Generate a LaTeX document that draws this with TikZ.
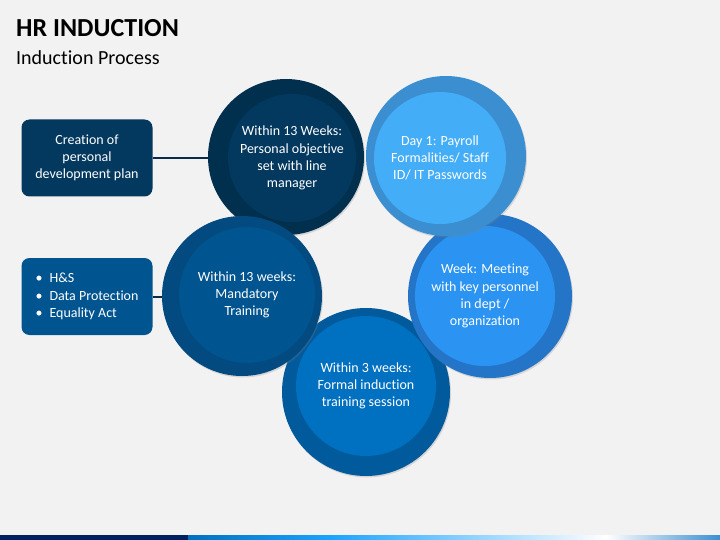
\documentclass[tikz,border=0pt]{standalone}
\usepackage{fontspec}
\setmainfont[Ligatures=NoCommon]{Carlito}
\usetikzlibrary{shadows}
\definecolor{fond}{HTML}{F2F2F2}
\definecolor{trait}{HTML}{0B2B4C}
\definecolor{tlA}{HTML}{01304F}
\definecolor{tlB}{HTML}{03385F}
\definecolor{trA}{HTML}{3B8FD1}
\definecolor{trB}{HTML}{43ADF7}
\definecolor{rA}{HTML}{2474C8}
\definecolor{rB}{HTML}{2B93F1}
\definecolor{bA}{HTML}{005A9C}
\definecolor{bB}{HTML}{0070C0}
\definecolor{lA}{HTML}{024A80}
\definecolor{lB}{HTML}{00548F}
\definecolor{barre}{HTML}{002060}
\tikzset{
  anneau/.style={circle, inner sep=0pt, minimum size=#1,
    drop shadow={shadow xshift=1pt, shadow yshift=-1.5pt, opacity=.25}},
  disque/.style={circle, inner sep=0pt, minimum size=#1, text=white,
    align=center, font=\fontsize{14}{17.2}\selectfont},
  boite/.style={rounded corners=8pt, minimum width=131pt, minimum height=77pt,
    inner sep=0pt, text=white, font=\fontsize{14}{17.2}\selectfont},
  lien/.style={draw=trait, line width=2pt}
}
\begin{document}
\begin{tikzpicture}[x=1pt,y=-1pt]  % ------ HR induction : induction process ------
  \fill[fond] (0,0) rectangle (720,540);
  \node[anchor=base west, inner sep=0pt, font=\fontsize{26}{30}\selectfont\bfseries] (titre) at (16,37) {HR INDUCTION};
  \node[anchor=base west, inner sep=0pt, font=\fontsize{20}{24}\selectfont] (soustitre) at (16,65) {Induction Process};
  % centres des cercles
  \coordinate (tl) at (286,157);
  \coordinate (tr) at (446,156);
  \coordinate (dr) at (490,296);
  \coordinate (bs) at (366,392);
  \coordinate (gc) at (242,296);
  % les boites
  \node[boite, fill=tlB, align=center] (plan) at (87,158) {Creation of\\personal\\development plan};
  \node[boite, fill=lB, align=left] (liste) at (87,296.5)
    {\textbullet\hspace{7pt}H\&S\\\textbullet\hspace{7pt}Data Protection\\\textbullet\hspace{7pt}Equality Act};
  \draw[lien] (plan) -- (plan -| tl);
  \draw[lien] (liste) -- (liste -| gc);
  % les cercles
  \node[anneau=156pt, fill=tlA] (tlo) at (tl) {};
  \node[disque=128pt, fill=tlB] (tli) at (292,158) {Within 13 Weeks:\\Personal objective\\set with line\\manager};
  \node[anneau=168pt, fill=bA] (bso) at (bs) {};
  \node[disque=140pt, fill=bB] (bsi) at (366,386) {Within 3 weeks:\\Formal induction\\training session};
  \node[anneau=160pt, fill=lA] (gco) at (gc) {};
  \node[disque=136pt, fill=lB] (gci) at (247,295) {Within 13 weeks:\\Mandatory\\Training};
  \node[anneau=164pt, fill=rA] (dro) at (dr) {};
  \node[disque=140pt, fill=rB] (dri) at (485,296) {Week: Meeting\\with key personnel\\in dept /\\organization};
  \node[anneau=160pt, fill=trA] (tro) at (tr) {};
  \node[disque=132pt, fill=trB] (tri) at (440,158) {Day 1: Payroll\\Formalities/ Staff\\ID/ IT Passwords};
  % barre du bas
  \fill[barre] (0,535) rectangle (188,540);
  \shade[left color=bB, right color=cyan!60!blue!90] (188,535) rectangle (330,540);
  \shade[left color=cyan!60!blue!90, right color=white] (330,535) rectangle (606,540);
  \shade[left color=white, right color=trA] (606,535) rectangle (720,540);
\end{tikzpicture}
\end{document}
